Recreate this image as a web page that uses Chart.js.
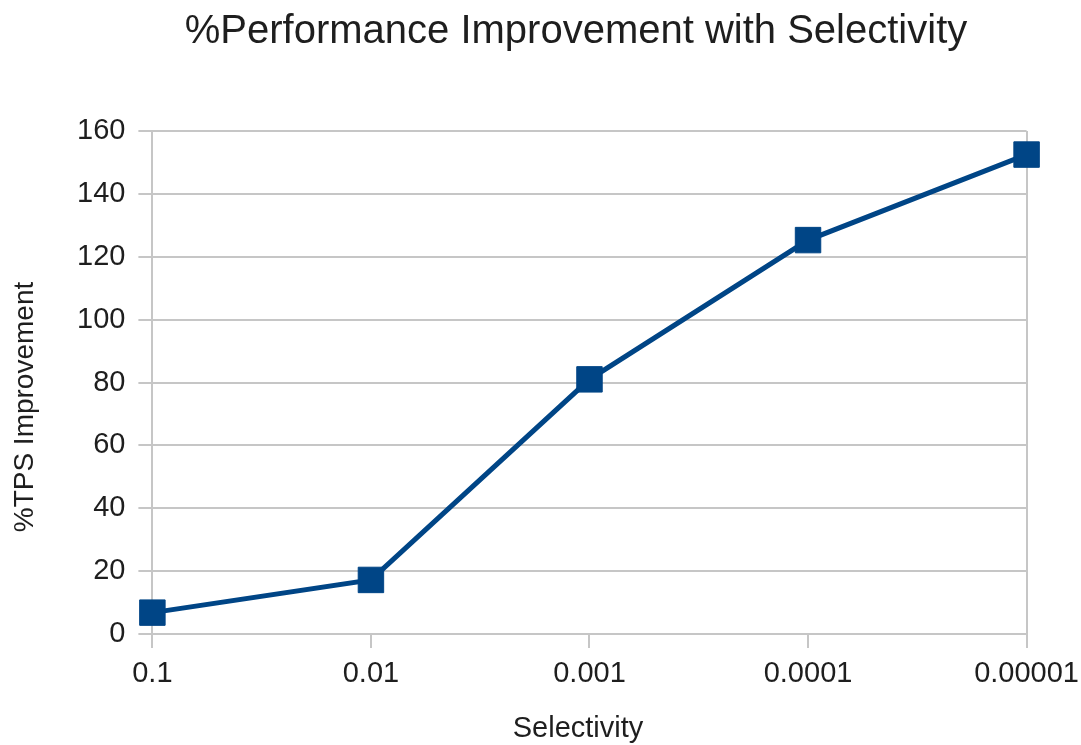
<!DOCTYPE html>
<html>
<head>
<meta charset="utf-8">
<title>%Performance Improvement with Selectivity</title>
<script src="https://cdn.jsdelivr.net/npm/chart.js@4.4.1/dist/chart.umd.min.js"></script>
<style>
  html, body { margin: 0; padding: 0; background: #ffffff; }
  #wrap { width: 1081px; height: 745px; position: relative; }
</style>
</head>
<body>
<div id="wrap"><canvas id="chart"></canvas></div>
<script>
// Selectivity levels along the x axis
const selectivity = ['0.1', '0.01', '0.001', '0.0001', '0.00001'];
// Percentage TPS improvement for each selectivity level
const tpsImprovement = [6.8, 17.2, 81, 125.3, 152.5];
// Y axis range and step
const yMin = 0;
const yMax = 160;
const yStep = 20;
// Chart and axis titles
const chartTitle = '%Performance Improvement with Selectivity';
const xTitle = 'Selectivity';
const yTitle = '%TPS Improvement';

const lineColor = '#004586';
const gridColor = '#c6c6c6';
const textColor = '#1e1e1e';
const fontFamily = '"Liberation Sans", Arial, sans-serif';

// Draws the chart title and both axis titles as canvas text
const titlesPlugin = {
  id: 'titles',
  afterDraw(chart) {
    const ctx = chart.ctx;
    ctx.save();
    ctx.fillStyle = textColor;
    ctx.textBaseline = 'alphabetic';
    ctx.textAlign = 'center';

    ctx.font = '40px ' + fontFamily;
    ctx.fillText(chartTitle, 576, 43);

    ctx.font = '29px ' + fontFamily;
    ctx.fillText(xTitle, 578, 737);

    ctx.font = '28px ' + fontFamily;
    ctx.translate(33, 407);
    ctx.rotate(-Math.PI / 2);
    ctx.fillText(yTitle, 0, 0);
    ctx.restore();
  }
};

new Chart(document.getElementById('chart'), {
  type: 'line',
  data: {
    labels: selectivity,
    datasets: [{
      label: yTitle,
      data: tpsImprovement,
      borderColor: lineColor,
      backgroundColor: lineColor,
      borderWidth: 5,
      pointStyle: 'rect',
      pointRadius: 18,
      pointHoverRadius: 18,
      pointBorderWidth: 1,
      pointBackgroundColor: lineColor,
      pointBorderColor: lineColor,
      tension: 0,
      fill: false
    }]
  },
  plugins: [titlesPlugin],
  options: {
    responsive: true,
    maintainAspectRatio: false,
    animation: false,
    events: [],
    layout: { padding: { left: 64, right: 40, top: 131, bottom: 45 } },
    plugins: {
      legend: { display: false },
      tooltip: { enabled: false },
      title: { display: false }
    },
    scales: {
      x: {
        type: 'category',
        offset: false,
        grid: {
          display: true,
          lineWidth: 2,
          color: (ctx) => (ctx.index === 0 || ctx.index === selectivity.length - 1) ? gridColor : 'rgba(0,0,0,0)',
          tickColor: gridColor,
          tickLength: 14,
          drawTicks: true
        },
        border: { display: false },
        ticks: {
          color: textColor,
          font: { family: fontFamily, size: 29, lineHeight: 1.655 },
          padding: 2,
          maxRotation: 0,
          autoSkip: false
        }
      },
      y: {
        min: yMin,
        max: yMax,
        grid: {
          lineWidth: 2,
          color: gridColor,
          tickColor: gridColor,
          tickLength: 14
        },
        border: { display: true, color: gridColor, width: 2 },
        ticks: {
          stepSize: yStep,
          color: textColor,
          font: { family: fontFamily, size: 29 },
          padding: 13
        }
      }
    }
  }
});
</script>
</body>
</html>
